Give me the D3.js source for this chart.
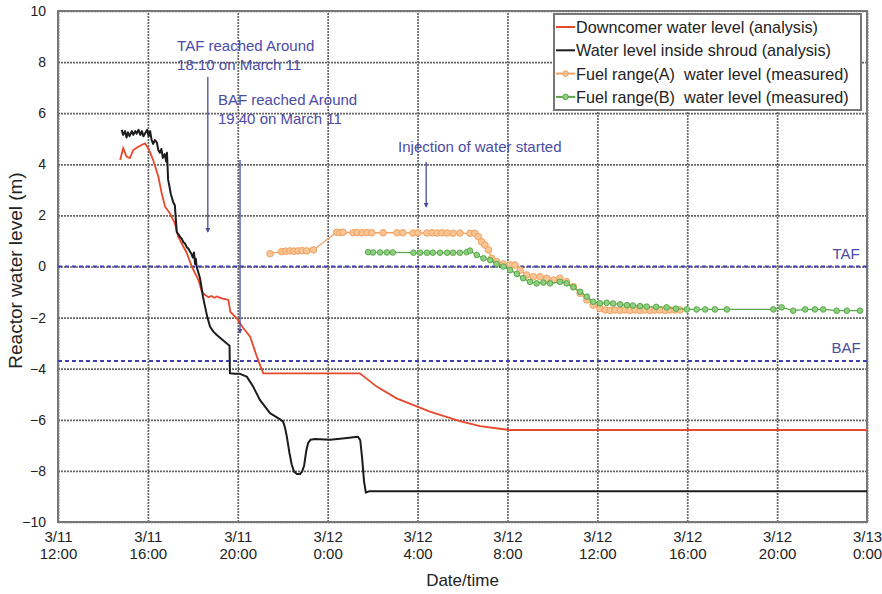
<!DOCTYPE html>
<html>
<head>
<meta charset="utf-8">
<script src="https://cdn.jsdelivr.net/npm/d3@7"></script>
<style>
  body { margin: 0; background: #fff; }
  svg { display: block; font-family: "Liberation Sans", Arial, sans-serif; }
</style>
</head>
<body>
<script>
// ---- data ----
const xDomain = ['3/11 12:00', '3/13 0:00']
const yTicks = [-10, -8, -6, -4, -2, 0, 2, 4, 6, 8, 10]

// Downcomer water level (analysis)
const downcomer = [
  ['3/11 14:46', 4.17], ['3/11 14:54', 4.63], ['3/11 15:03', 4.3], ['3/11 15:12', 4.24],
  ['3/11 15:21', 4.56], ['3/11 15:34', 4.69], ['3/11 15:52', 4.82], ['3/11 16:01', 4.63],
  ['3/11 16:14', 4.17], ['3/11 16:28', 3.51], ['3/11 16:37', 2.86], ['3/11 16:46', 2.34],
  ['3/11 16:59', 2.08], ['3/11 17:12', 1.69], ['3/11 17:21', 1.17], ['3/11 17:44', 0.52],
  ['3/11 17:57', 0.0], ['3/11 18:15', -0.53], ['3/11 18:24', -0.99], ['3/11 18:33', -1.12],
  ['3/11 18:42', -1.2], ['3/11 18:50', -1.15], ['3/11 18:58', -1.22], ['3/11 19:04', -1.17],
  ['3/11 19:17', -1.25], ['3/11 19:35', -1.31], ['3/11 19:40', -1.77], ['3/11 19:57', -2.03],
  ['3/11 20:15', -2.42], ['3/11 20:33', -2.75], ['3/11 20:51', -3.53], ['3/11 21:08', -4.18],
  ['3/12 1:26', -4.18], ['3/12 2:11', -4.7], ['3/12 3:04', -5.16], ['3/12 4:33', -5.68],
  ['3/12 5:53', -6.05], ['3/12 6:47', -6.25], ['3/12 7:40', -6.35], ['3/12 8:07', -6.4],
  ['3/13 0:00', -6.4]
]

// Water level inside shroud (analysis)
const shroud = [
  ['3/11 14:50', 5.35], ['3/11 14:54', 5.15], ['3/11 14:59', 5.3], ['3/11 15:03', 5.05],
  ['3/11 15:07', 5.25], ['3/11 15:11', 5.1], ['3/11 15:17', 5.3], ['3/11 15:21', 5.15],
  ['3/11 15:26', 5.3], ['3/11 15:30', 5.2], ['3/11 15:35', 5.35], ['3/11 15:40', 5.15],
  ['3/11 15:44', 5.3], ['3/11 15:48', 5.1], ['3/11 15:52', 5.2], ['3/11 15:58', 5.35],
  ['3/11 16:02', 5.1], ['3/11 16:06', 5.3], ['3/11 16:10', 4.95], ['3/11 16:14', 4.8],
  ['3/11 16:19', 4.95], ['3/11 16:24', 4.85], ['3/11 16:28', 4.55], ['3/11 16:32', 4.45],
  ['3/11 16:36', 4.6], ['3/11 16:40', 4.25], ['3/11 16:45', 4.4], ['3/11 16:49', 4.1],
  ['3/11 16:51', 4.45], ['3/11 16:54', 3.4], ['3/11 16:58', 3.1], ['3/11 17:01', 2.85],
  ['3/11 17:04', 2.7], ['3/11 17:08', 2.5], ['3/11 17:12', 2.4], ['3/11 17:17', 1.35],
  ['3/11 17:22', 1.25], ['3/11 17:26', 1.15], ['3/11 17:30', 1.1], ['3/11 17:35', 0.95],
  ['3/11 17:39', 0.9], ['3/11 17:44', 0.75], ['3/11 17:48', 0.7], ['3/11 17:52', 0.6],
  ['3/11 17:56', 0.5], ['3/11 18:00', 0.35], ['3/11 18:03', 0.55], ['3/11 18:06', 0.1],
  ['3/11 18:08', 0.3], ['3/11 18:10', 0.0], ['3/11 18:13', -0.15], ['3/11 18:16', -0.3],
  ['3/11 18:19', -0.45], ['3/11 18:23', -0.8], ['3/11 18:27', -1.18], ['3/11 18:33', -1.6],
  ['3/11 18:39', -2.0], ['3/11 18:46', -2.36], ['3/11 18:55', -2.55], ['3/11 19:04', -2.68],
  ['3/11 19:15', -2.82], ['3/11 19:30', -3.0], ['3/11 19:38', -3.1], ['3/11 19:39', -4.18],
  ['3/11 19:52', -4.2], ['3/11 20:06', -4.2], ['3/11 20:24', -4.31], ['3/11 20:41', -4.7],
  ['3/11 20:59', -5.22], ['3/11 21:26', -5.74], ['3/11 21:53', -5.98], ['3/11 22:01', -6.07],
  ['3/11 22:06', -6.3], ['3/11 22:11', -6.66], ['3/11 22:18', -7.3], ['3/11 22:24', -7.75],
  ['3/11 22:30', -8.02], ['3/11 22:38', -8.12], ['3/11 22:46', -8.12], ['3/11 22:52', -8.02],
  ['3/11 22:57', -7.8], ['3/11 23:03', -7.2], ['3/11 23:08', -6.9], ['3/11 23:14', -6.78],
  ['3/11 23:26', -6.75], ['3/12 0:06', -6.78], ['3/12 0:46', -6.72], ['3/12 1:21', -6.66],
  ['3/12 1:27', -6.8], ['3/12 1:32', -7.5], ['3/12 1:37', -8.4], ['3/12 1:42', -8.85],
  ['3/12 1:50', -8.8], ['3/13 0:00', -8.8]
]

// Fuel range (A) water level (measured)
const fuelA = [
  ['3/11 21:26', 0.5], ['3/11 21:57', 0.58], ['3/11 22:08', 0.6], ['3/11 22:19', 0.61],
  ['3/11 22:30', 0.6], ['3/11 22:41', 0.61], ['3/11 22:52', 0.62], ['3/11 23:04', 0.61],
  ['3/11 23:22', 0.65], ['3/12 0:24', 1.34], ['3/12 0:33', 1.33], ['3/12 0:41', 1.34],
  ['3/12 1:08', 1.32], ['3/12 1:19', 1.33], ['3/12 1:32', 1.32], ['3/12 1:45', 1.33],
  ['3/12 1:58', 1.32], ['3/12 2:28', 1.32], ['3/12 3:05', 1.32], ['3/12 3:21', 1.32],
  ['3/12 3:48', 1.31], ['3/12 4:01', 1.32], ['3/12 4:25', 1.31], ['3/12 4:39', 1.32],
  ['3/12 4:52', 1.31], ['3/12 5:05', 1.32], ['3/12 5:19', 1.31], ['3/12 5:35', 1.3],
  ['3/12 5:53', 1.31], ['3/12 6:20', 1.3], ['3/12 6:33', 1.3], ['3/12 6:42', 1.17],
  ['3/12 6:51', 0.97], ['3/12 7:00', 0.84], ['3/12 7:09', 0.65], ['3/12 7:18', 0.32],
  ['3/12 7:31', 0.19], ['3/12 7:49', 0.1], ['3/12 8:07', 0.06], ['3/12 8:20', 0.06],
  ['3/12 8:34', -0.14], ['3/12 8:51', -0.33], ['3/12 9:09', -0.4], ['3/12 9:27', -0.4],
  ['3/12 9:45', -0.46], ['3/12 10:03', -0.53], ['3/12 10:20', -0.46], ['3/12 10:38', -0.6],
  ['3/12 10:56', -0.79], ['3/12 11:14', -1.05], ['3/12 11:32', -1.31], ['3/12 11:49', -1.51],
  ['3/12 12:07', -1.64], ['3/12 12:21', -1.7], ['3/12 12:34', -1.72], ['3/12 12:47', -1.7],
  ['3/12 13:01', -1.72], ['3/12 13:14', -1.7], ['3/12 13:27', -1.72], ['3/12 13:41', -1.7],
  ['3/12 13:54', -1.72], ['3/12 14:07', -1.7], ['3/12 14:21', -1.72], ['3/12 14:34', -1.7],
  ['3/12 14:47', -1.7], ['3/12 15:01', -1.72], ['3/12 15:14', -1.7], ['3/12 15:27', -1.7],
  ['3/12 15:41', -1.7]
]

// Fuel range (B) water level (measured)
const fuelB = [
  ['3/12 1:48', 0.56], ['3/12 2:01', 0.55], ['3/12 2:20', 0.55], ['3/12 2:38', 0.55],
  ['3/12 2:54', 0.55], ['3/12 3:49', 0.54], ['3/12 4:07', 0.54], ['3/12 4:25', 0.54],
  ['3/12 4:41', 0.54], ['3/12 5:00', 0.54], ['3/12 5:19', 0.54], ['3/12 5:35', 0.54],
  ['3/12 5:53', 0.54], ['3/12 6:11', 0.56], ['3/12 6:20', 0.62], ['3/12 6:38', 0.45],
  ['3/12 6:56', 0.32], ['3/12 7:14', 0.25], ['3/12 7:31', 0.1], ['3/12 7:49', 0.0],
  ['3/12 8:07', -0.14], ['3/12 8:25', -0.29], ['3/12 8:42', -0.46], ['3/12 9:00', -0.6],
  ['3/12 9:18', -0.66], ['3/12 9:36', -0.63], ['3/12 9:54', -0.66], ['3/12 10:20', -0.6],
  ['3/12 10:38', -0.66], ['3/12 10:56', -0.81], ['3/12 11:14', -0.99], ['3/12 11:32', -1.18],
  ['3/12 11:49', -1.38], ['3/12 12:07', -1.44], ['3/12 12:25', -1.42], ['3/12 12:42', -1.45],
  ['3/12 13:01', -1.48], ['3/12 13:19', -1.51], ['3/12 13:35', -1.53], ['3/12 13:54', -1.55],
  ['3/12 14:12', -1.57], ['3/12 14:37', -1.58], ['3/12 15:05', -1.6], ['3/12 15:30', -1.65],
  ['3/12 15:59', -1.68], ['3/12 16:25', -1.68], ['3/12 16:48', -1.68], ['3/12 17:14', -1.68],
  ['3/12 17:46', -1.68], ['3/12 19:50', -1.68], ['3/12 20:12', -1.6], ['3/12 20:43', -1.73],
  ['3/12 21:15', -1.68], ['3/12 21:41', -1.68], ['3/12 22:03', -1.68], ['3/12 22:39', -1.73],
  ['3/12 23:06', -1.73], ['3/12 23:41', -1.73]
]

const refLevels = [['TAF', 0], ['BAF', -3.7]]

const notes = [
  { lines: ['TAF reached Around', '18:10 on March 11'], at: '3/11 17:18', v: 8.42, from: ['3/11 18:40', 7.42], to: 1.35 },
  { lines: ['BAF reached Around', '19:40 on March 11'], at: '3/11 19:07', v: 6.33, from: ['3/11 20:06', 4.17], to: -2.6 },
  { lines: ['Injection of water started'], at: '3/12 3:08', v: 4.5, from: ['3/12 4:23', 4.09], to: 2.33 }
]

const legendItems = [
  ['Downcomer water level (analysis)', 'red'],
  ['Water level inside shroud (analysis)', 'black'],
  ['Fuel range(A)  water level (measured)', 'orange'],
  ['Fuel range(B)  water level (measured)', 'green']
]

// ---- layout ----
const w = 882
const h = 594
const plotLeft = 58
const plotRight = 867
const plotTop = 11
const plotBottom = 522

const colors = {
  red: '#e8482c',
  black: '#1c1c1c',
  orange: '#f2a262',
  green: '#58a84a'
}
const noteColor = '#4b4ba6'

const parse = d3.timeParse('%m/%d %H:%M')

const x = d3.scaleTime()
  .domain(xDomain.map(parse))
  .range([plotLeft, plotRight])

const y = d3.scaleLinear()
  .domain([-10, 10])
  .range([plotBottom, plotTop])

const svg = d3.select('body').append('svg')
  .attr('width', w)
  .attr('height', h)

// grid
const xTicks = x.ticks(d3.timeHour.every(4))

svg.append('g')
  .attr('transform', 'translate(0,' + plotBottom + ')')
  .call(d3.axisBottom(x).tickValues(xTicks).tickSize(-(plotBottom - plotTop)).tickFormat(''))
  .call(g => g.select('.domain').remove())
  .call(g => g.selectAll('line')
    .attr('stroke', '#666')
    .attr('stroke-width', 1.7)
    .attr('stroke-dasharray', '2,1'))

svg.append('g')
  .attr('transform', 'translate(' + plotLeft + ',0)')
  .call(d3.axisLeft(y).tickValues(yTicks).tickSize(-(plotRight - plotLeft)).tickFormat(''))
  .call(g => g.select('.domain').remove())
  .call(g => g.selectAll('line')
    .attr('stroke', '#666')
    .attr('stroke-width', 1.7)
    .attr('stroke-dasharray', '2,1'))

// frame
svg.append('rect')
  .attr('x', plotLeft)
  .attr('y', plotTop)
  .attr('width', plotRight - plotLeft)
  .attr('height', plotBottom - plotTop)
  .attr('fill', 'none')
  .attr('stroke', '#777')
  .attr('stroke-width', 2)

// y tick labels
svg.append('g')
  .attr('transform', 'translate(' + plotLeft + ',0)')
  .call(d3.axisLeft(y).tickValues(yTicks).tickSize(0).tickPadding(12))
  .call(g => g.select('.domain').remove())
  .call(g => g.selectAll('text')
    .attr('font-family', '"Liberation Sans", Arial, sans-serif')
    .attr('font-size', 14)
    .attr('fill', '#222'))

// x tick labels (two lines)
const fmtDay = d3.timeFormat('%-m/%-d')
const fmtHour = d3.timeFormat('%-H:%M')

svg.append('g')
  .attr('transform', 'translate(0,' + plotBottom + ')')
  .call(d3.axisBottom(x).tickValues(xTicks).tickSize(0))
  .call(g => g.select('.domain').remove())
  .call(g => g.selectAll('text').each(function (d) {
    const t = d3.select(this)
    t.text(null)
      .attr('y', 0)
      .attr('dy', null)
      .attr('font-family', '"Liberation Sans Narrow", "Liberation Sans", Arial, sans-serif')
      .attr('font-size', 15)
      .attr('fill', '#222')
    t.append('tspan').attr('x', 0).attr('y', 20).text(fmtDay(d))
    t.append('tspan').attr('x', 0).attr('y', 37).text(fmtHour(d))
  }))

// axis titles
svg.append('text')
  .attr('x', (plotLeft + plotRight) / 2)
  .attr('y', 586)
  .attr('text-anchor', 'middle')
  .attr('font-size', 17)
  .attr('fill', '#222')
  .text('Date/time')

svg.append('text')
  .attr('transform', 'translate(22,' + ((plotTop + plotBottom) / 2 + 4) + ') rotate(-90)')
  .attr('text-anchor', 'middle')
  .attr('font-size', 19)
  .attr('fill', '#222')
  .text('Reactor water level (m)')

// TAF / BAF reference lines
refLevels.forEach(([name, v]) => {
  svg.append('line')
    .attr('x1', plotLeft)
    .attr('x2', plotRight)
    .attr('y1', y(v))
    .attr('y2', y(v))
    .attr('stroke', '#4040b0')
    .attr('stroke-width', 2)
    .attr('stroke-dasharray', '4,3')

  svg.append('text')
    .attr('x', 846)
    .attr('y', y(v) - 8)
    .attr('text-anchor', 'middle')
    .attr('font-size', 15)
    .attr('fill', noteColor)
    .text(name)
})

// lines
const lineFn = d3.line()
  .x(d => x(parse(d[0])))
  .y(d => y(d[1]))
  .curve(d3.curveLinear)

svg.append('path')
  .attr('d', lineFn(downcomer))
  .attr('fill', 'none')
  .attr('stroke', colors.red)
  .attr('stroke-width', 1.8)

svg.append('path')
  .attr('d', lineFn(shroud))
  .attr('fill', 'none')
  .attr('stroke', colors.black)
  .attr('stroke-width', 2)
  .attr('stroke-linejoin', 'round')

function drawMeasured (ds, color, fill, r) {
  svg.append('path')
    .attr('d', lineFn(ds))
    .attr('fill', 'none')
    .attr('stroke', color)
    .attr('stroke-width', 1.3)

  svg.append('g').selectAll('circle')
    .data(ds)
    .join('circle')
    .attr('cx', d => x(parse(d[0])))
    .attr('cy', d => y(d[1]))
    .attr('r', r)
    .attr('fill', fill)
    .attr('stroke', color)
    .attr('stroke-width', 1)
}

drawMeasured(fuelA, colors.orange, '#f8c594', 3.3)
drawMeasured(fuelB, colors.green, '#8fcf80', 2.8)

// annotations
svg.append('defs').append('marker')
  .attr('id', 'arrow')
  .attr('viewBox', '0 0 6 6')
  .attr('refX', 5)
  .attr('refY', 3)
  .attr('markerWidth', 4)
  .attr('markerHeight', 4)
  .attr('orient', 'auto')
  .append('path')
  .attr('d', 'M0,0 L6,3 L0,6 Z')
  .attr('fill', noteColor)

notes.forEach(n => {
  const t = svg.append('text')
    .attr('font-size', 15)
    .attr('fill', noteColor)
  n.lines.forEach((s, i) => {
    t.append('tspan')
      .attr('x', x(parse(n.at)))
      .attr('y', y(n.v) + i * 19)
      .text(s)
  })

  const ax = x(parse(n.from[0]))
  svg.append('line')
    .attr('x1', ax)
    .attr('x2', ax)
    .attr('y1', y(n.from[1]))
    .attr('y2', y(n.to))
    .attr('stroke', noteColor)
    .attr('stroke-width', 1.3)
    .attr('marker-end', 'url(#arrow)')
})

// legend
const lg = svg.append('g').attr('transform', 'translate(554,14)')

lg.append('rect')
  .attr('width', 307)
  .attr('height', 96)
  .attr('fill', '#fff')
  .attr('stroke', '#777')
  .attr('stroke-width', 2)

legendItems.forEach(([label, key], i) => {
  const cy = 13 + i * 23.3
  lg.append('line')
    .attr('x1', 2)
    .attr('x2', 21)
    .attr('y1', cy)
    .attr('y2', cy)
    .attr('stroke', colors[key])
    .attr('stroke-width', 2)
  if (key === 'orange' || key === 'green') {
    lg.append('circle')
      .attr('cx', 11.5)
      .attr('cy', cy)
      .attr('r', 2.8)
      .attr('fill', key === 'orange' ? '#f8c594' : '#8fcf80')
      .attr('stroke', colors[key])
  }
  lg.append('text')
    .attr('x', 22)
    .attr('y', cy + 6)
    .attr('font-size', 16.2)
    .attr('fill', '#222')
    .style('white-space', 'pre')
    .text(label)
})
</script>
</body>
</html>
